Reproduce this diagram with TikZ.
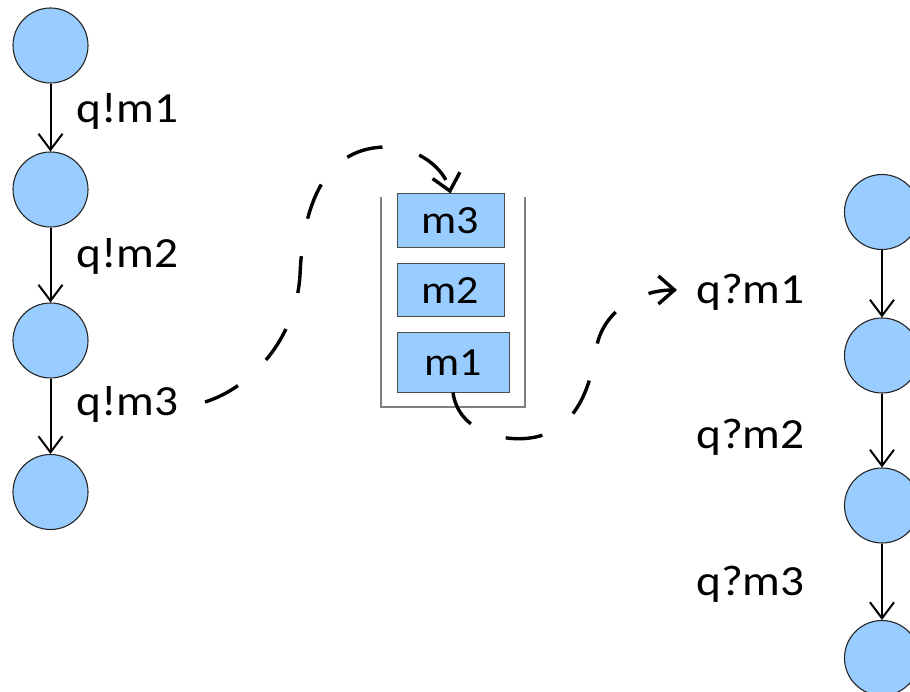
\documentclass[tikz,border=0pt]{standalone}
\usepackage{fontspec}
\setmainfont{Carlito}[FakeStretch=1.1]
\usetikzlibrary{arrows.meta}
\definecolor{stateblue}{HTML}{99CCFF}
\definecolor{queuegray}{HTML}{808080}
\begin{document}
\begin{tikzpicture}[x=1pt,y=-1pt,
  state/.style={circle,draw=black!85,line width=1.1pt,fill=stateblue,minimum size=75pt,inner sep=0pt},
  msgbox/.style={rectangle,draw=black!70,line width=1pt,fill=stateblue,inner sep=0pt,font=\fontsize{40}{48}\selectfont},
  lbl/.style={anchor=base west,inner sep=0pt,font=\fontsize{43}{50}\selectfont},
  trans/.style={line width=2pt,-{Straight Barb[length=16pt,width=24pt]}},
  flow/.style={line width=3.4pt,dash pattern=on 37pt off 38pt,-{Straight Barb[length=16pt,width=28pt]}}
]
\clip (0,0) rectangle (910,692);
% left automaton
\node[state] (L1) at (50.5,45.5) {};
\node[state] (L2) at (50.5,189.5) {};
\node[state] (L3) at (50.5,340.5) {};
\node[state] (L4) at (50.5,492) {};
\draw[trans] (L1) -- (L2);
\draw[trans] (L2) -- (L3);
\draw[trans] (L3) -- (L4);
\node[lbl] (lm1) at (76,123) {q!m1};
\node[lbl] (lm2) at (76,268) {q!m2};
\node[lbl] (lm3) at (76,415) {q!m3};
% right automaton
\node[state] (R1) at (882,212) {};
\node[state] (R2) at (882,355.5) {};
\node[state] (R3) at (882,505.5) {};
\node[state] (R4) at (882,658) {};
\draw[trans] (R1) -- (R2);
\draw[trans] (R2) -- (R3);
\draw[trans] (R3) -- (R4);
\node[lbl] (rm1) at (696,304) {q?m1};
\node[lbl] (rm2) at (696,448) {q?m2};
\node[lbl] (rm3) at (696,595) {q?m3};
% queue
\draw[queuegray,line width=1.8pt] (381,197) -- (381,407) -- (525,407) -- (525,197);
\node[msgbox,minimum width=107pt,minimum height=54pt] (b3) at (450.5,221) {m3};
\node[msgbox,minimum width=107pt,minimum height=53pt] (b2) at (450.5,290.5) {m2};
\node[msgbox,minimum width=112pt,minimum height=59pt] (b1) at (453,362.5) {m1};
% message flows
\coordinate (s1) at (205,402);
\coordinate (m1a) at (300,275);
\coordinate (m1b) at (385,147);
\draw[flow] (s1) .. controls (250,388) and (296,340) .. (m1a)
  .. controls (304,180) and (340,148) .. (m1b)
  .. controls (420,147) and (445,170) .. (b3.north);
\coordinate (m2a) at (530,438);
\coordinate (m2b) at (596,350);
\coordinate (e2) at (677,290);
\draw[flow] (b1.south) .. controls (458,430) and (500,442) .. (m2a)
  .. controls (575,432) and (590,390) .. (m2b)
  .. controls (602,310) and (640,290) .. (e2);
\end{tikzpicture}
\end{document}
